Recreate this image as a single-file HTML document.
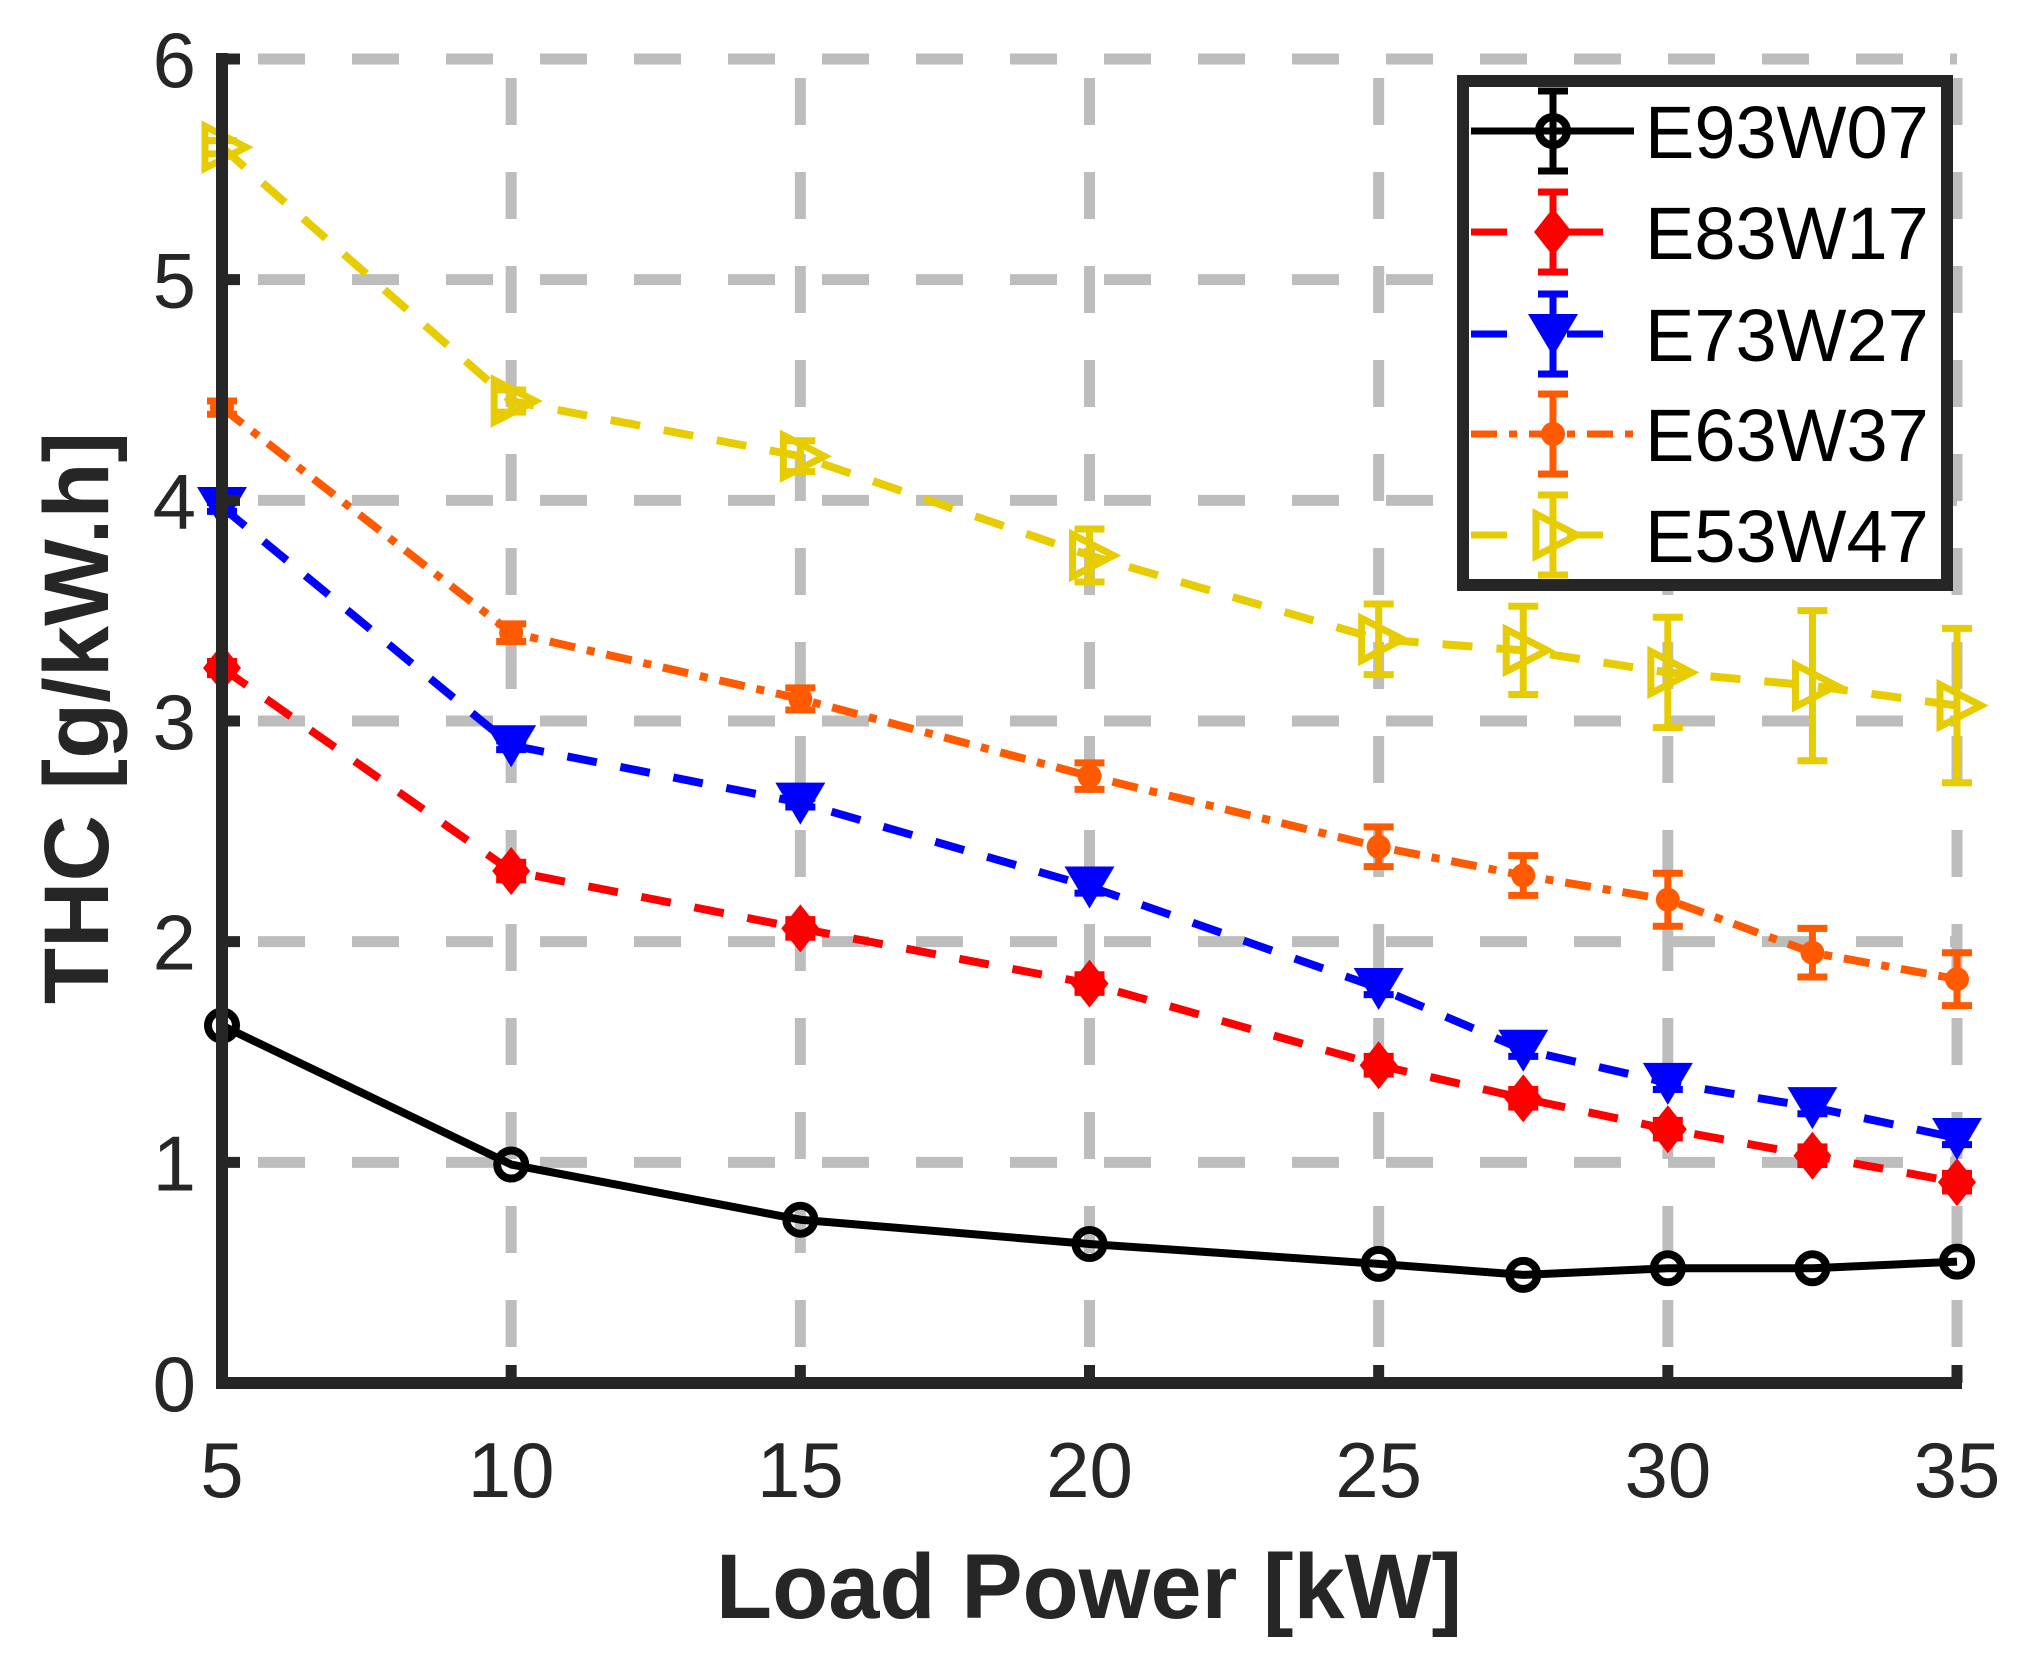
<!DOCTYPE html>
<html><head><meta charset="utf-8"><style>
html,body{margin:0;padding:0;background:#fff;}
svg{display:block;}
</style></head><body>
<svg id="s" width="2025" height="1663" xmlns="http://www.w3.org/2000/svg" font-family="Liberation Sans, sans-serif">
<rect width="2025" height="1663" fill="#fff"/>
<g id="grid"></g>
<g id="data"></g>
<g id="axes"></g>
<g id="legend"></g>
</svg>
<script>
const NS="http://www.w3.org/2000/svg";
const L=222,R=1957,T=59,B=1383;
const X=v=>L+(v-5)*(R-L)/30, Y=v=>B-v*(B-T)/6;
function el(p,tag,a,txt){const e=document.createElementNS(NS,tag);for(const k in a)e.setAttribute(k,a[k]);if(txt!==undefined)e.textContent=txt;document.getElementById(p).appendChild(e);return e;}
for(const v of [10,15,20,25,30,35]) el('grid','line',{x1:X(v),y1:B,x2:X(v),y2:T,stroke:'#bdbdbd','stroke-width':11,'stroke-dasharray':'47 47','stroke-dashoffset':-36});
for(const v of [1,2,3,4,5,6]) el('grid','line',{x1:L,y1:Y(v),x2:R,y2:Y(v),stroke:'#bdbdbd','stroke-width':11,'stroke-dasharray':'47 47','stroke-dashoffset':-36});
el('axes','line',{x1:L,y1:T-6,x2:L,y2:B+6,stroke:'#262626','stroke-width':12});
el('axes','line',{x1:L-6,y1:B,x2:R+5,y2:B,stroke:'#262626','stroke-width':12});
for(const v of [10,15,20,25,30,35]) el('axes','line',{x1:X(v),y1:B,x2:X(v),y2:B-18,stroke:'#262626','stroke-width':11});
for(const v of [1,2,3,4,5,6]) el('axes','line',{x1:L,y1:Y(v),x2:L+18,y2:Y(v),stroke:'#262626','stroke-width':11});
for(const v of [0,1,2,3,4,5,6]) el('axes','text',{x:196,y:Y(v)+28,'text-anchor':'end','font-size':78,fill:'#262626'},String(v));
for(const v of [5,10,15,20,25,30,35]) el('axes','text',{x:X(v),y:1497,'text-anchor':'middle','font-size':78,fill:'#262626'},String(v));
el('axes','text',{x:1089,y:1618,'text-anchor':'middle','font-size':92,'font-weight':'bold',fill:'#262626'},'Load Power [kW]');
el('axes','text',{x:0,y:0,'text-anchor':'middle','font-size':92,'font-weight':'bold',fill:'#262626',transform:'translate(108,718) rotate(-90)'},'THC [g/kW.h]');
const xs=[5,10,15,20,25,27.5,30,32.5,35];
const S=[
 {c:'#000',d:'',m:'o',y:[1.62,0.99,0.74,0.63,0.54,0.49,0.52,0.52,0.55],e:[0,0,0,0,0,0,0,0,0],w:8},
 {c:'#ff0000',d:'30 24',m:'d',y:[3.24,2.32,2.06,1.81,1.44,1.29,1.15,1.03,0.91],e:[0.03,0.04,0.04,0.04,0.04,0.04,0.04,0.04,0.04],w:8},
 {c:'#0000ff',d:'30 24',m:'v',y:[3.97,2.89,2.63,2.25,1.79,1.51,1.36,1.25,1.11],e:[0.02,0.02,0.02,0.03,0.03,0.03,0.03,0.03,0.03],w:8},
 {c:'#ff5a00',d:'26 12 8 12',m:'.',y:[4.42,3.40,3.10,2.75,2.43,2.30,2.19,1.95,1.83],e:[0.03,0.04,0.05,0.06,0.09,0.09,0.12,0.11,0.12],w:8},
 {c:'#e6cc00',d:'30 24',m:'>',y:[5.6,4.45,4.2,3.75,3.37,3.32,3.22,3.16,3.07],e:[0.03,0.05,0.07,0.12,0.16,0.2,0.25,0.34,0.35],w:8}
];
function marker(g,m,x,y,c){
 if(m==='o') el(g,'circle',{cx:x,cy:y,r:14,fill:'none',stroke:c,'stroke-width':8});
 if(m==='d') el(g,'polygon',{points:`${x},${y-24} ${x+19},${y} ${x},${y+24} ${x-19},${y}`,fill:c});
 if(m==='v') el(g,'polygon',{points:`${x-25},${y-20} ${x+25},${y-20} ${x},${y+22}`,fill:c});
 if(m==='.') el(g,'circle',{cx:x,cy:y,r:12,fill:c});
 if(m==='>') el(g,'polygon',{points:`${x-17},${y-21} ${x+24},${y} ${x-17},${y+21}`,fill:'none',stroke:c,'stroke-width':7});
}
function ebar(g,x,y1,y2,c){
 el(g,'line',{x1:x,y1:y1,x2:x,y2:y2,stroke:c,'stroke-width':7});
 el(g,'line',{x1:x-15,y1:y1,x2:x+15,y2:y1,stroke:c,'stroke-width':7});
 el(g,'line',{x1:x-15,y1:y2,x2:x+15,y2:y2,stroke:c,'stroke-width':7});
}
for(const s of S){
 const pts=xs.map((v,i)=>X(v)+','+Y(s.y[i])).join(' ');
 const a={points:pts,fill:'none',stroke:s.c,'stroke-width':s.w,'stroke-linejoin':'round'};
 if(s.d)a['stroke-dasharray']=s.d;
 el('data','polyline',a);
 xs.forEach((v,i)=>{ if(s.e[i]>0) ebar('data',X(v),Y(s.y[i]+s.e[i]),Y(s.y[i]-s.e[i]),s.c); marker('data',s.m,X(v),Y(s.y[i]),s.c);});
}
el('legend','rect',{x:1463,y:81,width:484,height:504,fill:'#fff',stroke:'#262626','stroke-width':12});
const names=['E93W07','E83W17','E73W27','E63W37','E53W47'];
const ly=[131,232,334,434,535];
S.forEach((s,i)=>{
 const y=ly[i];
 const a={x1:1471,y1:y,x2:1634,y2:y,stroke:s.c,'stroke-width':7};
 if(s.d)a['stroke-dasharray']=(s.m==='.')?'26 12 8 12':'36 60';
 el('legend','line',a);
 ebar('legend',1553,y-40,y+40,s.c);
 marker('legend',s.m,1553,y,s.c);
 el('legend','text',{x:1645,y:y+27,'font-size':74,fill:'#000'},names[i]);
});
</script>
</body></html>
